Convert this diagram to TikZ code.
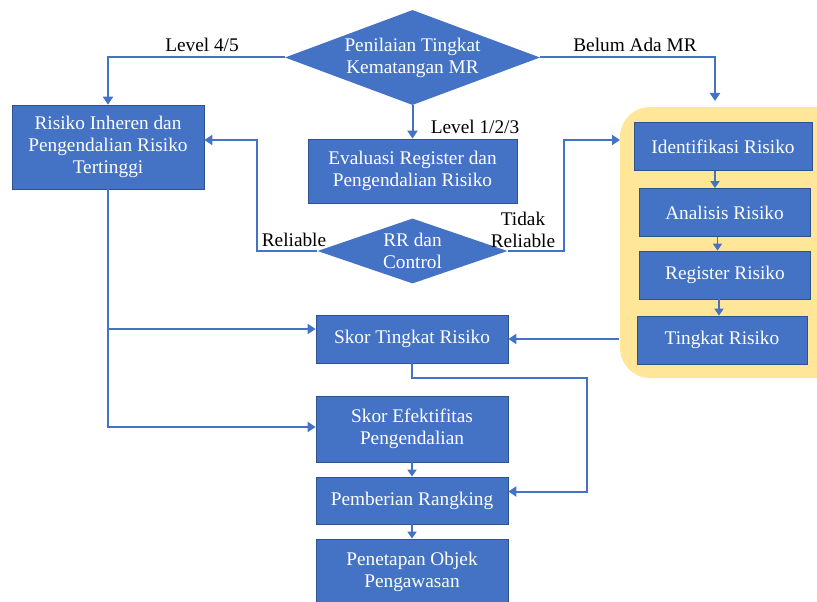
\documentclass[tikz,border=0pt]{standalone}
\usepackage{fontspec}
\setmainfont{Liberation Serif}
\usepackage{tikz}
\usetikzlibrary{shapes,arrows,arrows.meta,positioning}

\definecolor{boxblue}{HTML}{4472C4}
\definecolor{boxedge}{HTML}{2F528F}
\definecolor{panelgold}{HTML}{FFE699}

\tikzset{
	box/.style={draw=boxedge, line width=0.8pt, fill=boxblue, text=white, align=center, inner sep=0pt},
	decision/.style={diamond, fill=boxblue, text=white, align=center, inner sep=0pt},
	flow/.style={draw=boxblue, line width=2pt, -{Triangle[width=10pt,length=8pt]}},
	smallflow/.style={draw=boxblue, line width=1.8pt, -{Triangle[width=9pt,length=7pt]}},
	tag/.style={text=black, align=center, inner sep=0pt}
}

\begin{document}
\begin{tikzpicture}[x=1pt, y=-1pt, font=\fontsize{19.3}{22}\selectfont]
	\useasboundingbox (0,0) rectangle (817,602);

	\fill[panelgold, rounded corners=30pt] (620,107) rectangle (850,378); % yellow group behind the four steps, it runs off the right side of the page

	\node[decision,
	     aspect=2.68,
	     minimum width=255pt,
	     minimum height=95pt] (nilai) at (412.5,57.5) {Penilaian Tingkat\\Kematangan MR}; % first decision, three ways out of it

	\node[box, minimum width=192pt, minimum height=84pt] (inheren) at (108,147) {Risiko Inheren dan\\Pengendalian Risiko\\Tertinggi};
	\node[box, minimum width=209pt, minimum height=64pt] (evaluasi) at (412.5,171) {Evaluasi Register dan\\Pengendalian Risiko};
	\node[decision,
	     aspect=2.9,
	     minimum width=190pt,
	     minimum height=65pt] (rr) at (412.5,251) {RR dan\\Control};

	% steps inside the yellow group
	\node[box, minimum width=178pt, minimum height=48pt] (identifikasi) at (723,146.5) {Identifikasi Risiko};
	\node[box, minimum width=171pt, minimum height=48pt] (analisis) at (724.5,212.5) {Analisis Risiko};
	\node[box, minimum width=171pt, minimum height=48pt] (register) at (725,275) {Register Risiko};
	\node[box, minimum width=170pt, minimum height=48pt] (tingkat) at (722,340) {Tingkat Risiko};

	% middle column
	\node[box, minimum width=192pt, minimum height=48pt] (skortingkat) at (412,339) {Skor Tingkat Risiko};
	\node[box, minimum width=192pt, minimum height=66pt] (efektif) at (412,429) {Skor Efektifitas\\Pengendalian};
	\node[box, minimum width=192pt, minimum height=47pt] (rangking) at (412,500.5) {Pemberian Rangking};
	\node[box, minimum width=192pt, minimum height=66pt] (objek) at (412,572) {Penetapan Objek\\Pengawasan};

	\coordinate (panelN) at (715,101);
	\coordinate (panelW) at (620,140);
	\coordinate (panelOut) at (619,339);
	\coordinate (cabang) at (108,329);

	\draw[flow] (nilai.west) -| (inheren.north);
	\draw[flow] (nilai.east) -| (panelN);
	\draw[flow] (nilai.south) -- (evaluasi.north);
	\draw[flow] (rr.west) -- ++(-60,0) |- ([yshift=7pt]inheren.east);
	\draw[flow] (rr.east) -- ++(56,0) |- (panelW);

	\draw[smallflow] ([xshift=-8pt]identifikasi.south) -- ([xshift=-8pt]identifikasi.south |- analisis.north);
	\draw[smallflow] ([xshift=-7pt]analisis.south) -- ([xshift=-7pt]analisis.south |- register.north);
	\draw[smallflow] ([xshift=-6pt]register.south) -- ([xshift=-6pt]register.south |- tingkat.north);

	\draw[flow] (panelOut) -- (skortingkat.east);
	\draw[flow] (inheren.south) |- ([yshift=2pt]efektif.west); % trunk from the left box down to the effectiveness score
	\draw[flow] (cabang) -- (cabang -| skortingkat.west);
	\draw[flow] (skortingkat.south) -- ++(0,15) -- ++(175,0) |- ([yshift=9pt]rangking.east);
	\draw[smallflow] (efektif.south) -- (rangking.north);
	\draw[smallflow] (rangking.south) -- (objek.north);

	\node[tag] (lvlempat) at (202,45) {Level 4/5};
	\node[tag] (belum) at (635,45) {Belum Ada MR};
	\node[tag] (lvlsatu) at (475,127) {Level 1/2/3};
	\node[tag] (reliable) at (294,240) {Reliable};
	\node[tag] (tidak) at (523,230) {Tidak\\Reliable};

\end{tikzpicture}
\end{document}
